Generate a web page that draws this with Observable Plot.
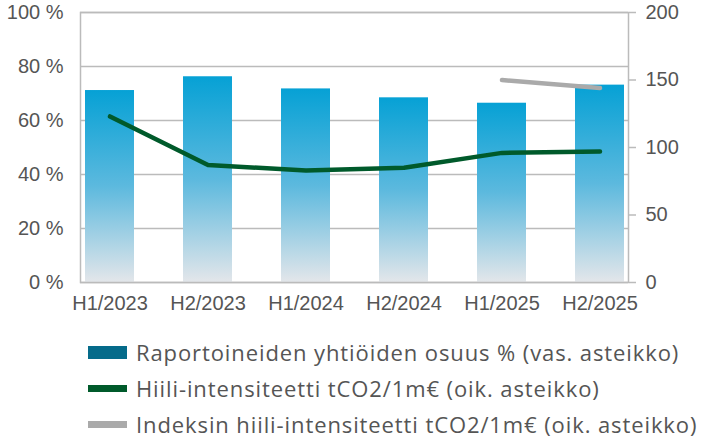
<!DOCTYPE html>
<html>
<head>
<meta charset="utf-8">
<script src="https://cdn.jsdelivr.net/npm/d3@7"></script>
<script src="https://cdn.jsdelivr.net/npm/@observablehq/plot@0.6"></script>
<style>
  body { margin: 0; background: #fff; width: 704px; height: 442px; overflow: hidden; }
  #chart svg { display: block; }
  .legend { padding-top: 16px; font-family: "Open Sans", sans-serif; font-size: 22px; letter-spacing: 0.9px; color: #555; white-space: nowrap; }
  .row { display: flex; align-items: center; height: 36px; }
  .sw { width: 39px; margin-left: 88px; margin-right: 9px; flex: none; }
</style>
</head>
<body>
<div id="chart"></div>
<div class="legend" id="legend"></div>
<script>
const periods = ["H1/2023", "H2/2023", "H1/2024", "H2/2024", "H1/2025", "H2/2025"];
const shareReported = [71.1, 76.2, 71.7, 68.4, 66.4, 73.1];        // % (left axis)
const carbonIntensity = [123, 87, 83, 85, 96, 97];                  // tCO2/1m€ (right axis)
const indexPeriods = ["H1/2025", "H2/2025"];
const indexIntensity = [150, 144];                                   // tCO2/1m€ (right axis)
const leftTicks = [0, 20, 40, 60, 80, 100];
const rightTicks = [0, 50, 100, 150, 200];
const seriesNames = [
  "Raportoineiden yhtiöiden osuus % (vas. asteikko)",
  "Hiili-intensiteetti tCO2/1m€ (oik. asteikko)",
  "Indeksin hiili-intensiteetti tCO2/1m€ (oik. asteikko)"
];
const seriesColors = ["#056b8a", "#005a2b", "#aaaaaa"];

const ratio = 100 / 200; // right axis → left axis
const bars = periods.map((p, i) => ({p, v: shareReported[i]}));
const green = periods.map((p, i) => ({p, v: carbonIntensity[i] * ratio}));
const gray = indexPeriods.map((p, i) => ({p, v: indexIntensity[i] * ratio}));

const defs = () => {
  const g = d3.create("svg:defs");
  const lg = g.append("linearGradient").attr("id", "barGrad").attr("x1", 0).attr("y1", 0).attr("x2", 0).attr("y2", 1);
  lg.append("stop").attr("offset", "0%").attr("stop-color", "#06a1d5");
  lg.append("stop").attr("offset", "50%").attr("stop-color", "#5cb9de");
  lg.append("stop").attr("offset", "100%").attr("stop-color", "#e3e6ea");
  return g.node();
};

const axisFont = {fontFamily: "'Liberation Sans', Arial, sans-serif", fontSize: 20, fill: "#555"};

const chart = Plot.plot({
  width: 704,
  height: 318,
  marginLeft: 80,
  marginRight: 76,
  marginTop: 12,
  marginBottom: 36,
  style: {fontFamily: "'Liberation Sans', Arial, sans-serif", fontSize: "20px", color: "#555", background: "#fff"},
  x: {type: "band", domain: periods, paddingInner: 0.5, paddingOuter: 0.035, align: 0.6, label: null},
  y: {domain: [0, 100], label: null},
  marks: [
    defs,
    Plot.ruleY(leftTicks, {stroke: "#bbbbbb", strokeWidth: 1.5}),
    Plot.barY(bars, {x: "p", y: "v", fill: "url(#barGrad)"}),
    Plot.frame({stroke: "#bbbbbb", strokeWidth: 1.5}),
    Plot.lineY(green, {x: "p", y: "v", stroke: "#005a2b", strokeWidth: 4.5, strokeLinejoin: "round"}),
    Plot.lineY(gray, {x: "p", y: "v", stroke: "#aaaaaa", strokeWidth: 4.5}),
    Plot.axisY({ticks: leftTicks, tickSize: 0, tickPadding: 17, tickFormat: d => `${d} %`, ...axisFont, label: null}),
    Plot.axisY({anchor: "right", ticks: rightTicks.map(d => d * ratio), tickSize: 7, tickPadding: 10, stroke: "#bbbbbb", strokeWidth: 1.5, tickFormat: d => `${d / ratio}`, ...axisFont, label: null}),
    Plot.axisX({tickSize: 0, tickPadding: 13, ...axisFont, label: null})
  ]
});
document.getElementById("chart").appendChild(chart);

const legend = document.getElementById("legend");
seriesNames.forEach((name, i) => {
  const row = document.createElement("div");
  row.className = "row";
  const sw = document.createElement("div");
  sw.className = "sw";
  sw.style.height = i === 0 ? "13px" : "7px";
  sw.style.background = seriesColors[i];
  const t = document.createElement("span");
  t.textContent = name;
  row.appendChild(sw);
  row.appendChild(t);
  legend.appendChild(row);
});
</script>
</body>
</html>
